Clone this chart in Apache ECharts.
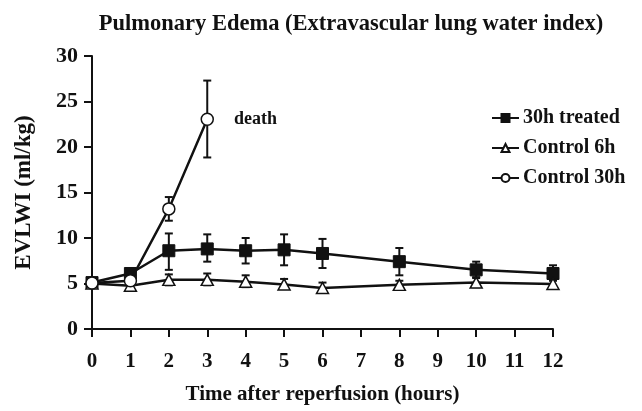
<!DOCTYPE html>
<html><head><meta charset="utf-8">
<script src="https://cdn.jsdelivr.net/npm/echarts@6/dist/echarts.min.js"></script>
<style>html,body{margin:0;padding:0;background:#fff}#c{width:642px;height:411px}</style>
</head><body><div id="c"></div>
<script>
const hours = [0,1,2,3,4,5,6,8,10,12];
const treatedMean = [5.1,6.1,8.6,8.8,8.6,8.7,8.3,7.4,6.5,6.1];
const treatedHigh = [null,null,10.5,10.4,10.0,10.4,9.9,8.9,7.4,7.0];
const treatedLow  = [null,null,6.5,7.4,7.2,7.0,6.7,5.9,5.6,5.3];
const control6Mean = [5.0,4.75,5.4,5.4,5.2,4.9,4.5,4.85,5.1,4.95];
const control6High = [null,null,6.0,6.1,5.9,5.5,5.1,5.3,5.7,5.5];
const control6Low  = [null,null,4.8,4.8,4.6,4.4,4.0,4.4,4.6,4.5];
const control30Hours = [0,1,2,3];
const control30Mean = [5.05,5.3,13.2,23.05];
const control30High = [null,null,14.5,27.3];
const control30Low  = [null,null,11.9,18.85];
const control30Notes = [null,null,null,'death'];
const yTicks = [0,5,10,15,20,25,30];

const FONT = '"Liberation Serif", "Times New Roman", serif';
function pairs(xs, ys){ return xs.map((x,i)=>[x, ys[i]]); }
function errData(xs, lo, hi){ const out=[]; xs.forEach((x,i)=>{ if(hi[i]!=null) out.push([x, lo[i], hi[i]]); }); return out; }
function errSeries(data){
  return {type:'custom', z:1, silent:true, data:data, encode:{x:0,y:[1,2]},
    renderItem:function(params, api){
      const x = api.value(0);
      const pl = api.coord([x, api.value(1)]);
      const ph = api.coord([x, api.value(2)]);
      const w = 4;
      const st = {stroke:'#111', lineWidth:2};
      return {type:'group', children:[
        {type:'line', shape:{x1:pl[0],y1:pl[1],x2:ph[0],y2:ph[1]}, style:st},
        {type:'line', shape:{x1:ph[0]-w,y1:ph[1],x2:ph[0]+w,y2:ph[1]}, style:st},
        {type:'line', shape:{x1:pl[0]-w,y1:pl[1],x2:pl[0]+w,y2:pl[1]}, style:st}
      ]};
    }};
}
const c30data = control30Hours.map((x,i)=>{
  const d = {value:[x, control30Mean[i]]};
  if(control30Notes[i]) d.label = {show:true, formatter:control30Notes[i], position:'right', distance:20, offset:[0,0],
    fontFamily:FONT, fontWeight:'bold', fontSize:18, color:'#111'};
  return d;
});
const chart = echarts.init(document.getElementById('c'));
chart.setOption({
  animation:false,
  backgroundColor:'#fff',
  title:{text:'Pulmonary Edema (Extravascular lung water index)', left:346, textAlign:'center', top:8,
    textStyle:{fontFamily:FONT, fontWeight:'bold', fontSize:22.5, color:'#111'}},
  grid:{left:92, right:89, top:56, bottom:82},
  legend:{orient:'vertical', left:486, top:103, itemGap:10, itemWidth:27, itemHeight:10,
    textStyle:{fontFamily:FONT, fontWeight:'bold', fontSize:20, color:'#111', padding:[0,0,0,-1]},
    data:['30h treated','Control 6h','Control 30h']},
  xAxis:{type:'value', min:0, max:12, interval:1,
    name:'Time after reperfusion (hours)', nameLocation:'middle', nameGap:55,
    nameTextStyle:{fontFamily:FONT, fontWeight:'bold', fontSize:21, color:'#111'},
    axisLine:{lineStyle:{color:'#111', width:2}},
    axisTick:{length:8, lineStyle:{color:'#111', width:2}},
    axisLabel:{fontFamily:FONT, fontWeight:'bold', fontSize:21, color:'#111', margin:22},
    splitLine:{show:false}},
  yAxis:{type:'value', min:0, max:30, interval:5,
    name:'EVLWI (ml/kg)', nameLocation:'middle', nameGap:56,
    nameTextStyle:{fontFamily:FONT, fontWeight:'bold', fontSize:23, color:'#111'},
    axisLine:{show:true, lineStyle:{color:'#111', width:2}},
    axisTick:{show:true, length:8, lineStyle:{color:'#111', width:2}},
    axisLabel:{fontFamily:FONT, fontWeight:'bold', fontSize:22, color:'#111', margin:14,
      formatter:v=>yTicks.includes(v)?String(v):''},
    splitLine:{show:false}},
  series:[
    errSeries(errData(hours, treatedLow, treatedHigh)),
    errSeries(errData(hours, control6Low, control6High)),
    errSeries(errData(control30Hours, control30Low, control30High)),
    {name:'30h treated', type:'line', z:3, data:pairs(hours, treatedMean), symbol:'rect', symbolSize:12,
      itemStyle:{color:'#111', borderColor:'#111', borderWidth:1},
      lineStyle:{color:'#111', width:2.5}},
    {name:'Control 6h', type:'line', z:4, data:pairs(hours, control6Mean), symbol:'triangle', symbolSize:[12,11],
      itemStyle:{color:'#fff', borderColor:'#111', borderWidth:1.5},
      lineStyle:{color:'#111', width:2.5}},
    {name:'Control 30h', type:'line', z:5, data:c30data, symbol:'circle', symbolSize:12,
      itemStyle:{color:'#fff', borderColor:'#111', borderWidth:1.5},
      lineStyle:{color:'#111', width:2.5}}
  ]
});
</script></body></html>
